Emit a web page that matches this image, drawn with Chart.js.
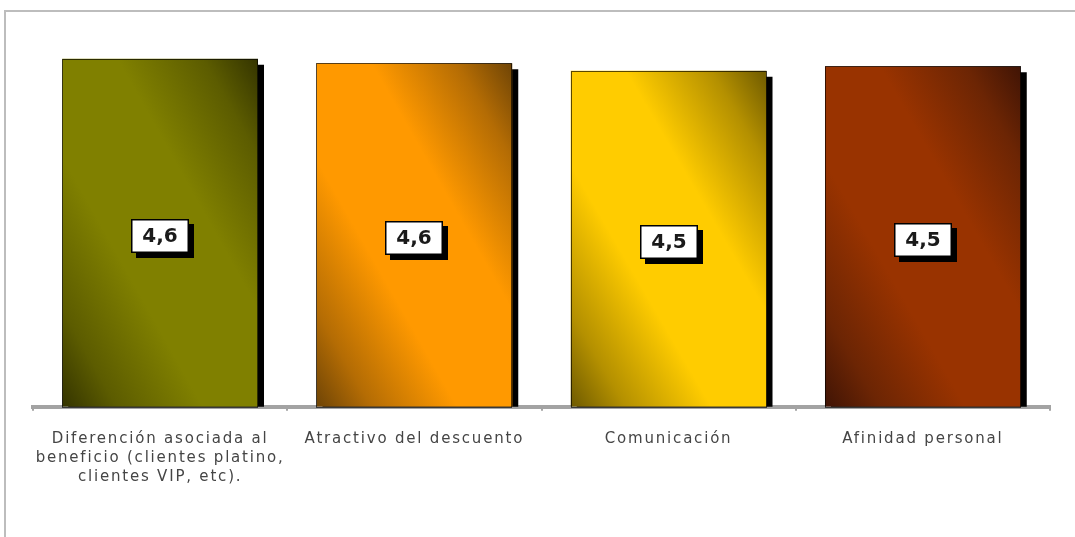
<!DOCTYPE html>
<html>
<head>
<meta charset="utf-8">
<script src="https://cdn.jsdelivr.net/npm/chart.js@4"></script>
<style>
  html, body { margin: 0; padding: 0; background: #fff; }
  #wrap { width: 1075px; height: 537px; }
</style>
</head>
<body>
<div id="wrap"><canvas id="chartFactores"></canvas></div>
<script>
// Factores valorados (escala de 1 a 5)
const categorias = [
    ['Diferención asociada al', 'beneficio (clientes platino,', 'clientes VIP, etc).'],
    'Atractivo del descuento',
    'Comunicación',
    'Afinidad personal'
];
const valores = [4.62, 4.56, 4.46, 4.52];
const coloresBase = ['#808000', '#ff9900', '#ffcc00', '#993300'];
const coloresMedios = ['#5c5c00', '#b46c04', '#b49000', '#6c2504'];
const coloresOscuros = ['#343400', '#6e4406', '#6e5a00', '#401405'];

const ANCHO_BARRA = 0.77;

// Degradado diagonal: claro en el centro, oscuro en las esquinas sup. derecha e inf. izquierda
function degradado(ctx) {
    const i = ctx.dataIndex;
    const chart = ctx.chart;
    if (!chart.chartArea || !chart.scales.x) return coloresBase[i];
    const xs = chart.scales.x, ys = chart.scales.y;
    const w = xs.width / valores.length * ANCHO_BARRA;
    const cx = xs.getPixelForValue(i);
    const top = ys.getPixelForValue(valores[i]);
    const bottom = ys.getPixelForValue(0);
    const h = bottom - top;
    const cy = (top + bottom) / 2;
    const k = w * h / (w * w + h * h);
    const g = chart.ctx.createLinearGradient(cx - k * h, cy + k * w, cx + k * h, cy - k * w);
    g.addColorStop(0, coloresOscuros[i]);
    g.addColorStop(0.14, coloresMedios[i]);
    g.addColorStop(0.36, coloresBase[i]);
    g.addColorStop(0.64, coloresBase[i]);
    g.addColorStop(0.86, coloresMedios[i]);
    g.addColorStop(1, coloresOscuros[i]);
    return g;
}

// Marco gris alrededor del gráfico
const marco = {
    id: 'marco',
    beforeDraw(chart) {
        const c = chart.ctx;
        c.save();
        c.strokeStyle = '#bdbdbd';
        c.lineWidth = 2;
        c.strokeRect(5, 11, 1200, 700);
        c.restore();
    },
    beforeLayout(chart) { chart.ctx.letterSpacing = '1.8px'; },
    beforeDatasetsDraw(chart) { chart.ctx.letterSpacing = '0px'; },
    afterDraw(chart) { chart.ctx.letterSpacing = '1.8px'; }
};

// Sombra negra de las barras
const sombra = {
    id: 'sombra',
    beforeDatasetDraw(chart) {
        const c = chart.ctx;
        c.save();
        c.shadowColor = '#000';
        c.shadowOffsetX = 6;
        c.shadowOffsetY = 6;
        c.shadowBlur = 0;
    },
    afterDatasetDraw(chart, args) {
        const c = chart.ctx;
        c.restore();
        // contorno fino de cada barra
        c.save();
        c.strokeStyle = 'rgba(0,0,0,0.65)';
        c.lineWidth = 1;
        args.meta.data.forEach(bar => {
            const p = bar.getProps(['x', 'y', 'base', 'width'], true);
            c.strokeRect(Math.round(p.x - p.width / 2) + 0.5, Math.round(p.y) + 0.5,
                Math.round(p.width) - 1, Math.round(p.base - p.y));
        });
        c.restore();
    }
};

// Etiquetas de valor en recuadro blanco con sombra
const etiquetas = {
    id: 'etiquetas',
    afterDatasetsDraw(chart) {
        const c = chart.ctx;
        const meta = chart.getDatasetMeta(0);
        c.save();
        c.letterSpacing = '0px';
        c.font = 'bold 20px "DejaVu Sans"';
        c.textAlign = 'center';
        c.textBaseline = 'middle';
        meta.data.forEach((bar, i) => {
            const p = bar.getProps(['x', 'y', 'base'], true);
            const texto = valores[i].toFixed(1).replace('.', ',');
            const bw = Math.round(c.measureText(texto).width + 23);
            const bh = 34;
            const x0 = Math.round(p.x - bw / 2);
            const y0 = Math.round((p.y + p.base) / 2 + 3 - bh / 2);
            c.fillStyle = '#000';
            c.fillRect(x0 + 5, y0 + 5, bw, bh);
            c.fillStyle = '#fff';
            c.fillRect(x0, y0, bw, bh);
            c.strokeStyle = '#000';
            c.lineWidth = 1.5;
            c.strokeRect(x0 + 0.75, y0 + 0.75, bw - 1.5, bh - 1.5);
            c.fillStyle = '#1a1a1a';
            c.fillText(texto, x0 + bw / 2, y0 + bh / 2 + 1);
        });
        c.restore();
    }
};

const ctxFactores = document.getElementById('chartFactores').getContext('2d');
new Chart(ctxFactores, {
    type: 'bar',
    data: {
        labels: categorias,
        datasets: [{
            label: 'Promedio',
            data: valores,
            backgroundColor: degradado,
            borderWidth: 0,
            barPercentage: ANCHO_BARRA,
            categoryPercentage: 1
        }]
    },
    options: {
        responsive: true,
        maintainAspectRatio: false,
        animation: false,
        layout: {
            padding: { left: 33, right: 25, top: 30, bottom: 31 }
        },
        plugins: {
            legend: { display: false },
            tooltip: { enabled: false }
        },
        scales: {
            x: {
                border: { color: '#a3a3a3', width: 4 },
                grid: {
                    offset: true,
                    drawOnChartArea: false,
                    color: '#a3a3a3',
                    lineWidth: 2,
                    tickLength: 4
                },
                ticks: {
                    color: '#454545',
                    padding: 19,
                    maxRotation: 0,
                    autoSkip: false,
                    font: { family: '"DejaVu Sans"', size: 15, lineHeight: 1.27 }
                }
            },
            y: {
                display: false,
                min: 0,
                max: 5
            }
        }
    },
    plugins: [marco, sombra, etiquetas]
});
</script>
</body>
</html>
